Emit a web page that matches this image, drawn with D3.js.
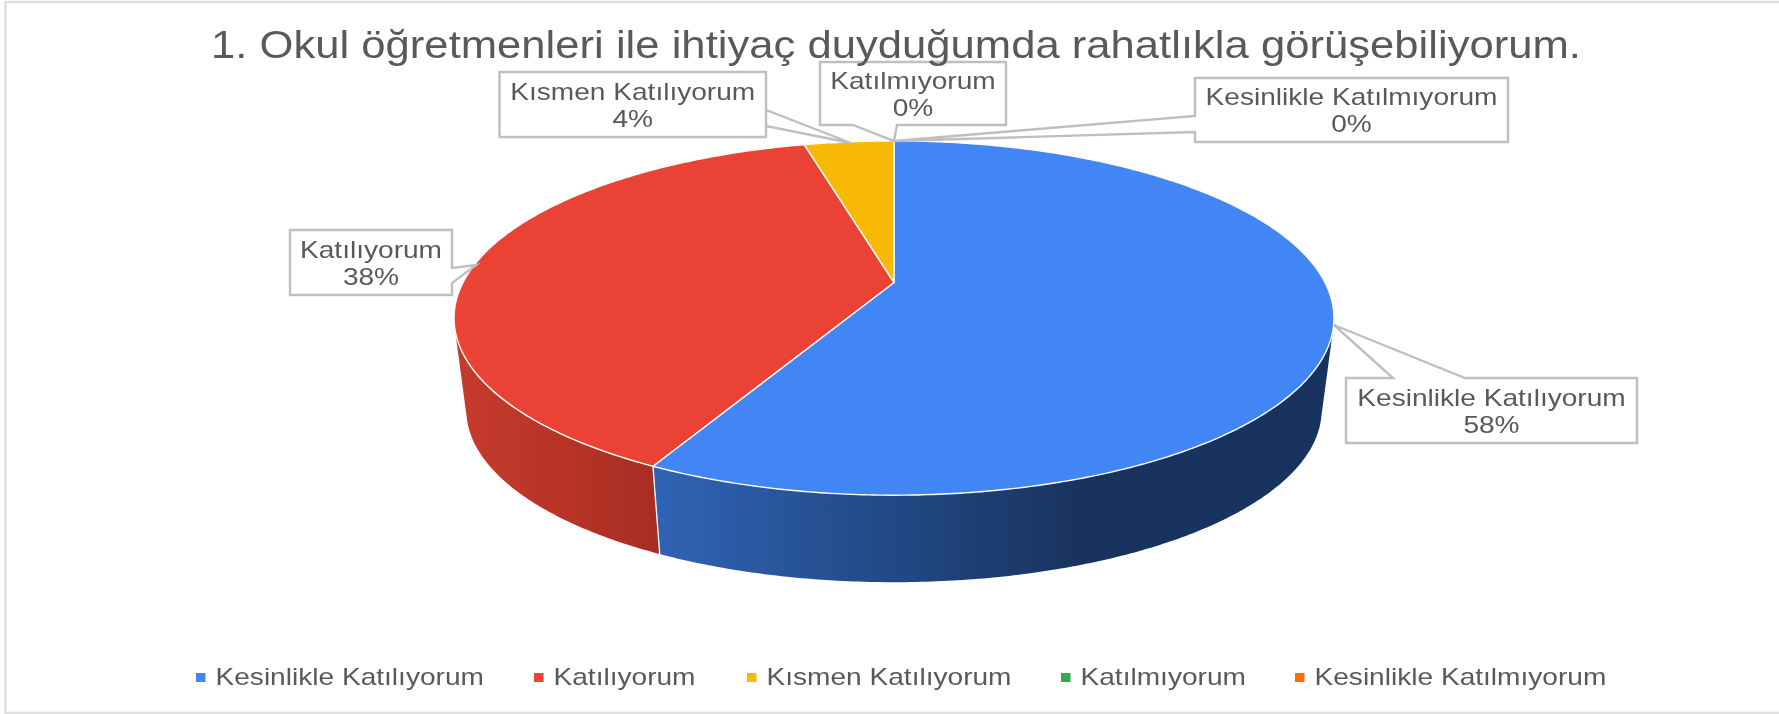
<!DOCTYPE html>
<html><head><meta charset="utf-8">
<script src="https://cdn.jsdelivr.net/npm/d3@7"></script>
<style>
html,body{margin:0;padding:0;background:#fff;overflow:hidden}
svg{display:block;filter:blur(0.55px)}
text{font-family:"Liberation Sans",Arial,sans-serif;fill:#595959}
</style></head><body>
<script>
const categories = ["Kesinlikle Katılıyorum","Katılıyorum","Kısmen Katılıyorum","Katılmıyorum","Kesinlikle Katılmıyorum"];
const values = [57.6,38.4,4.0,0,0];
const colors = ["#4285f4","#ea4335","#f8b904","#34a853","#ff6d01"];
const titleText = "1. Okul öğretmenleri ile ihtiyaç duyduğumda rahatlıkla görüşebiliyorum.";

const W=1779,H=714,labelSize=24,labelStretch=1.17;
const svg=d3.select("body").append("svg").attr("width",W).attr("height",H).attr("viewBox",[0,0,W,H]);
const defs=svg.append("defs");
function grad(id,x1,x2,stops){
  const g=defs.append("linearGradient").attr("id",id).attr("gradientUnits","userSpaceOnUse")
    .attr("x1",x1).attr("x2",x2).attr("y1",0).attr("y2",0);
  stops.forEach(s=>g.append("stop").attr("offset",s[0]).attr("stop-color",s[1]));
}
grad("w0",652,1330,[[0,"#3064b6"],[0.63,"#18335f"],[1,"#18335f"]]);
grad("w1",454,660,[[0,"#c73b2d"],[1,"#a82d21"]]);
grad("w2",800,900,[[0,"#a87d02"],[1,"#a87d02"]]);
grad("w3",800,900,[[0,"#226e36"],[1,"#226e36"]]);
grad("w4",800,900,[[0,"#a84700"],[1,"#a84700"]]);

function stretch(sel,factor){
  const len=sel.node().getComputedTextLength();
  return sel.attr("textLength",len*factor).attr("lengthAdjust","spacingAndGlyphs");
}

// frame
const frame=svg.append("g").attr("stroke","#e0e0e0").attr("stroke-width",2.5).attr("fill","none");
frame.append("path").attr("d",d3.line()([[W+4,2],[5.5,2],[5.5,H-1],[W+4,H-1]]));

// perspective disc
const cx=894,cy=282.5,A=431,B=170,k=0.2007,vpY=3603,shrink=0.972;
function topPt(a){const X=Math.sin(a),Y=-Math.cos(a),d=1-k*Y;return [cx+A*X/d,cy+B*Y/d];}
function botPt(a){const p=topPt(a);return [cx+(p[0]-cx)*shrink,vpY+(p[1]-vpY)*shrink];}
const line=d3.line();
const pie=d3.pie().sort(null).value((d,i)=>values[i]);
const arcs=pie(categories);
const samples=(a0,a1)=>{const n=Math.max(1,Math.ceil((a1-a0)/0.01));return d3.range(n+1).map(i=>a0+(a1-a0)*i/n);};

const g=svg.append("g");
arcs.forEach((d,i)=>{
  if(d.endAngle-d.startAngle<=0) return;
  const s=samples(d.startAngle,d.endAngle);
  const quads=d3.pairs(s).map(([a,b])=>{
    const q=[topPt(a),topPt(b),botPt(b),botPt(a)];
    if(d3.polygonArea(q)<0) q.reverse();
    return line(q)+"Z";
  }).join("");
  g.append("path").attr("d",quads).attr("fill",`url(#w${i})`);
});
// white seam on the visible wall edges
arcs.forEach(d=>{
  if(d.endAngle-d.startAngle<=0) return;
  const a=d.endAngle;
  if(Math.cos(a)<0 && d.endAngle<2*Math.PI-1e-6) g.append("path").attr("d",line([topPt(a),botPt(a)]))
     .attr("stroke","#fff").attr("stroke-width",1.3).attr("fill","none");
});
arcs.forEach((d,i)=>{
  if(d.endAngle-d.startAngle<=0) return;
  const s=samples(d.startAngle,d.endAngle);
  g.append("path").attr("d",line([[cx,cy]].concat(s.map(topPt)))+"Z")
   .attr("fill",colors[i]).attr("stroke","#fff").attr("stroke-width",1.4).attr("stroke-linejoin","round");
});

// callouts
const fmt=v=>d3.format(".0f")(v)+"%";
const boxes=[
 {x0:1346,y0:378,x1:1637,y1:443,pts:[[1393,378],[1334,325],[1465,378]]},
 {x0:290,y0:230,x1:452,y1:295,pts:[[452,283],[476,265],[452,268]]},
 {x0:499.5,y0:72,x1:766,y1:137,pts:[[766,110],[851,143],[766,126]]},
 {x0:820,y0:62,x1:1006,y1:125,pts:[[897,125],[894,141],[853,125]]},
 {x0:1195,y0:78,x1:1508,y1:142,pts:[[1195,132],[894,141],[1195,116]]}
];
function calloutPath(b){
  const p=b.pts, o=[];
  if(p[0][1]===b.y0){
    o.push([b.x0,b.y0],p[0],p[1],p[2],[b.x1,b.y0],[b.x1,b.y1],[b.x0,b.y1]);
  } else if(p[0][0]===b.x1){
    o.push([b.x0,b.y0],[b.x1,b.y0],p[2],p[1],p[0],[b.x1,b.y1],[b.x0,b.y1]);
  } else if(p[0][1]===b.y1){
    o.push([b.x0,b.y0],[b.x1,b.y0],[b.x1,b.y1],p[0],p[1],p[2],[b.x0,b.y1]);
  } else {
    o.push([b.x0,b.y0],[b.x1,b.y0],[b.x1,b.y1],[b.x0,b.y1],p[0],p[1],p[2]);
  }
  return line(o)+"Z";
}
const lab=svg.append("g");
[4,3,2,1,0].forEach(i=>{
  const b=boxes[i];
  lab.append("path").attr("d",calloutPath(b)).attr("fill","#fff").attr("stroke","#bfbfbf").attr("stroke-width",2.4);
  const mx=(b.x0+b.x1)/2,my=(b.y0+b.y1)/2;
  stretch(lab.append("text").attr("x",mx).attr("y",my-5).attr("text-anchor","middle").attr("font-size",labelSize).text(categories[i]),labelStretch);
  stretch(lab.append("text").attr("x",mx).attr("y",my+22).attr("text-anchor","middle").attr("font-size",labelSize).text(fmt(values[i])),labelStretch);
});

// title
const title=svg.append("text").attr("x",896).attr("y",58).attr("text-anchor","middle").attr("font-size",39).text(titleText);
title.attr("textLength",1370).attr("lengthAdjust","spacingAndGlyphs");

// legend
const legX=[196,534,747,1061,1295];
const leg=svg.append("g");
categories.forEach((c,i)=>{
  leg.append("rect").attr("x",legX[i]).attr("y",673).attr("width",9.5).attr("height",9).attr("fill",colors[i]);
  stretch(leg.append("text").attr("x",legX[i]+19.5).attr("y",684.5).attr("font-size",labelSize).text(c),labelStretch);
});
</script>
</body></html>
